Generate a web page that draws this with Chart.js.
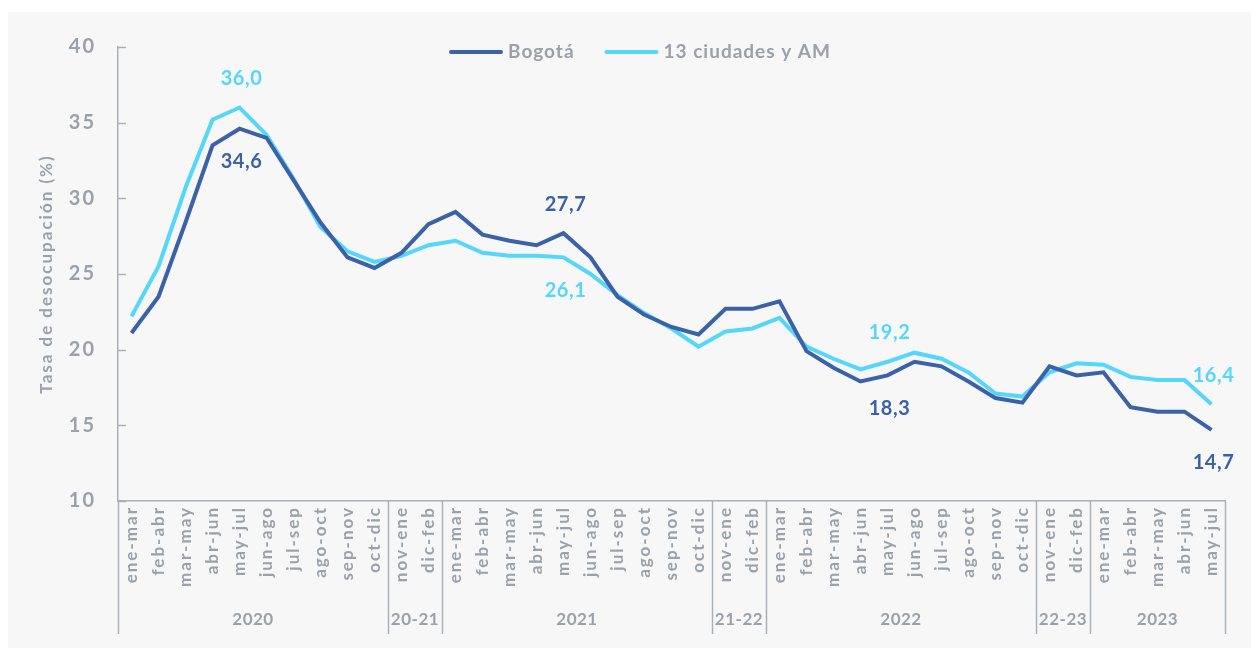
<!DOCTYPE html>
<html>
<head>
<meta charset="utf-8">
<script src="https://cdn.jsdelivr.net/npm/chart.js@4/dist/chart.umd.min.js"></script>
<style>
  html, body { margin: 0; padding: 0; background: #ffffff; }
  #wrap { width: 1251px; height: 648px; position: relative; }
</style>
</head>
<body>
<div id="wrap"><canvas id="chart" width="1251" height="648"></canvas></div>
<script>
const periods = [
    'ene-mar', 'feb-abr', 'mar-may', 'abr-jun', 'may-jul', 'jun-ago', 'jul-sep', 'ago-oct', 'sep-nov', 'oct-dic',
    'nov-ene', 'dic-feb',
    'ene-mar', 'feb-abr', 'mar-may', 'abr-jun', 'may-jul', 'jun-ago', 'jul-sep', 'ago-oct', 'sep-nov', 'oct-dic',
    'nov-ene', 'dic-feb',
    'ene-mar', 'feb-abr', 'mar-may', 'abr-jun', 'may-jul', 'jun-ago', 'jul-sep', 'ago-oct', 'sep-nov', 'oct-dic',
    'nov-ene', 'dic-feb',
    'ene-mar', 'feb-abr', 'mar-may', 'abr-jun', 'may-jul'
]
const groupNames = ['2020', '20-21', '2021', '21-22', '2022', '22-23', '2023']
const groupSizes = [10, 2, 10, 2, 10, 2, 5]

const bogota = [
    21.1, 23.5, 28.4, 33.5, 34.6, 34.0, 31.2, 28.4, 26.1, 25.4,
    26.4, 28.3,
    29.1, 27.6, 27.2, 26.9, 27.7, 26.1, 23.5, 22.3, 21.5, 21.0,
    22.7, 22.7,
    23.2, 19.9, 18.8, 17.9, 18.3, 19.2, 18.9, 17.9, 16.8, 16.5,
    18.9, 18.3,
    18.5, 16.2, 15.9, 15.9, 14.7
]
const ciudades = [
    22.2, 25.5, 30.7, 35.2, 36.0, 34.2, 31.3, 28.1, 26.5, 25.8,
    26.2, 26.9,
    27.2, 26.4, 26.2, 26.2, 26.1, 25.0, 23.6, 22.4, 21.4, 20.2,
    21.2, 21.4,
    22.1, 20.2, 19.4, 18.7, 19.2, 19.8, 19.4, 18.5, 17.1, 16.9,
    18.5, 19.1,
    19.0, 18.2, 18.0, 18.0, 16.4
]
const seriesNames = ['Bogotá', '13 ciudades y AM']
const yTicks = [10, 15, 20, 25, 30, 35, 40]

// labelled points: [dataset, index, 'above'|'below']
const labelled = [
    [1, 4, 'above'], [0, 4, 'below'],
    [0, 16, 'above'], [1, 16, 'below'],
    [1, 28, 'above'], [0, 28, 'below'],
    [1, 40, 'above'], [0, 40, 'below']
]

const DARK = '#3b62a8'
const LIGHT = '#55d6fd'
const GREY = '#9aa1a9'
const AXIS = '#aab0b7'
const FONT = 'Lato, "Noto Sans", sans-serif'

const panelPlugin = {
    id: 'panel',
    beforeDraw(chart) {
        const ctx = chart.ctx
        ctx.save()
        ctx.fillStyle = '#ffffff'
        ctx.fillRect(0, 0, chart.width, chart.height)
        ctx.fillStyle = '#f7f7f7'
        ctx.fillRect(8, 12, chart.width - 8, chart.height - 12)
        ctx.restore()
        ctx.letterSpacing = '2px'
    },
    beforeDatasetsDraw(chart) {
        chart.ctx.letterSpacing = '0px'
    }
}

const extrasPlugin = {
    id: 'extras',
    afterDraw(chart) {
        const ctx = chart.ctx
        const x = chart.scales.x
        const y = chart.scales.y
        const area = chart.chartArea
        const bottom = chart.height - 14
        ctx.save()
        // inward y ticks
        ctx.strokeStyle = AXIS
        ctx.lineWidth = 1.5
        yTicks.forEach(v => {
            const py = Math.round(y.getPixelForValue(v)) + 0.5
            ctx.beginPath()
            ctx.moveTo(area.left, py)
            ctx.lineTo(area.left + 8, py)
            ctx.stroke()
        })
        // group separators and names
        const step = x.getPixelForValue(1) - x.getPixelForValue(0)
        let start = 0
        const bounds = [0]
        groupSizes.forEach(n => { start += n; bounds.push(start) })
        bounds.forEach(b => {
            const px = Math.round(x.getPixelForValue(b) - step / 2) + 0.5
            ctx.beginPath()
            ctx.moveTo(px, area.bottom)
            ctx.lineTo(px, bottom)
            ctx.stroke()
        })
        ctx.fillStyle = GREY
        ctx.font = 'bold 17px ' + FONT
        ctx.letterSpacing = '0.5px'
        ctx.textAlign = 'center'
        ctx.textBaseline = 'middle'
        groupNames.forEach((name, i) => {
            const a = x.getPixelForValue(bounds[i]) - step / 2
            const b = x.getPixelForValue(bounds[i + 1]) - step / 2
            ctx.fillText(name, (a + b) / 2, 620)
        })
        // data labels
        ctx.font = 'bold 20px ' + FONT
        labelled.forEach(([ds, idx, pos]) => {
            const meta = chart.getDatasetMeta(ds)
            const pt = meta.data[idx]
            const val = chart.data.datasets[ds].data[idx]
            ctx.fillStyle = chart.data.datasets[ds].borderColor
            const dy = pos === 'above' ? -29 : 33
            ctx.fillText(val.toFixed(1).replace('.', ','), pt.x + 2, pt.y + dy)
        })
        // legend
        ctx.font = 'bold 19px ' + FONT
        ctx.letterSpacing = '1px'
        ctx.textAlign = 'left'
        const sample = 54
        const gap = 5
        const between = 30
        const widths = seriesNames.map(s => ctx.measureText(s).width)
        const total = widths.reduce((a, w) => a + sample + gap + w, 0) + between
        let lx = 640 - total / 2
        const ly = 52
        chart.data.datasets.forEach((d, i) => {
            ctx.strokeStyle = d.borderColor
            ctx.lineWidth = 4
            ctx.lineCap = 'round'
            ctx.beginPath()
            ctx.moveTo(lx + 2, ly)
            ctx.lineTo(lx + sample - 2, ly)
            ctx.stroke()
            ctx.fillStyle = GREY
            ctx.fillText(seriesNames[i], lx + sample + gap, ly)
            lx += sample + gap + widths[i] + between
        })
        ctx.restore()
    }
}

new Chart(document.getElementById('chart'), {
    type: 'line',
    data: {
        labels: periods,
        datasets: [{
            label: seriesNames[0],
            data: bogota,
            borderColor: DARK,
            backgroundColor: DARK,
            borderWidth: 4,
            pointRadius: 0,
            tension: 0
        }, {
            label: seriesNames[1],
            data: ciudades,
            borderColor: LIGHT,
            backgroundColor: LIGHT,
            borderWidth: 4,
            pointRadius: 0,
            tension: 0
        }]
    },
    options: {
        responsive: false,
        animation: false,
        layout: {
            padding: {left: 0, right: 26, top: 47, bottom: 0}
        },
        plugins: {
            legend: {display: false},
            tooltip: {enabled: false}
        },
        scales: {
            x: {
                offset: true,
                grid: {display: false, drawTicks: false},
                border: {display: true, color: AXIS, width: 1.5},
                ticks: {
                    autoSkip: false,
                    minRotation: 90,
                    maxRotation: 90,
                    padding: 5,
                    color: GREY,
                    font: {family: FONT, size: 17, weight: 'bold'}
                },
                afterFit: (scale) => { scale.height = 147 }
            },
            y: {
                min: 10,
                max: 40,
                grid: {display: false, drawTicks: false},
                border: {display: true, color: AXIS, width: 1.5},
                afterBuildTicks: (scale) => { scale.ticks = yTicks.map(v => ({value: v})) },
                ticks: {
                    padding: 22,
                    color: GREY,
                    font: {family: FONT, size: 20, weight: 'bold'}
                },
                title: {
                    display: true,
                    text: 'Tasa de desocupación (%)',
                    color: GREY,
                    padding: {top: 36, bottom: 0},
                    font: {family: FONT, size: 17, weight: 'bold'}
                },
                afterFit: (scale) => { scale.width = 118 }
            }
        }
    },
    plugins: [panelPlugin, extrasPlugin]
})
</script>
</body>
</html>
